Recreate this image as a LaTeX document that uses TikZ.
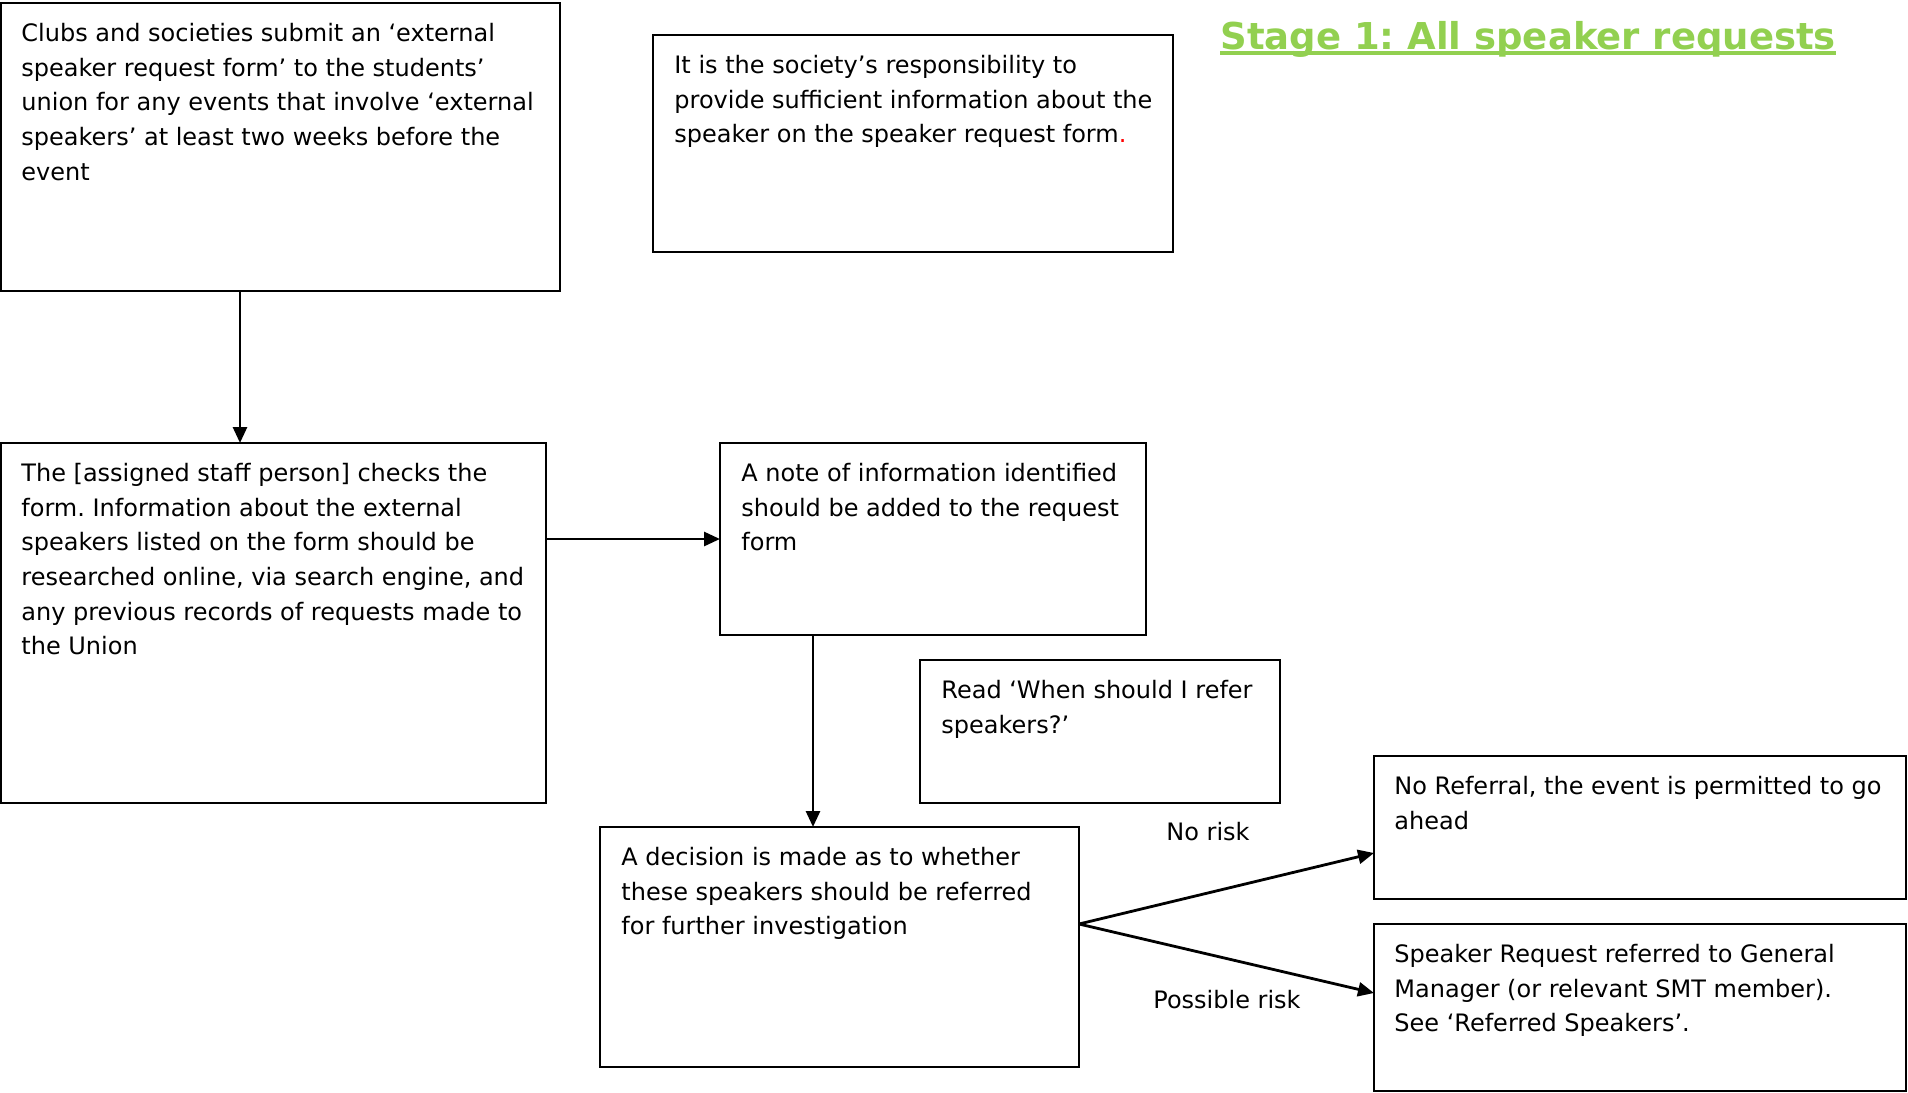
\documentclass[tikz,border=0pt]{standalone}
\usepackage{fontspec}
\setmainfont{DejaVu Sans}
\usetikzlibrary{arrows.meta}
\definecolor{titlegreen}{HTML}{92D050}
\frenchspacing
\begin{document}
\frenchspacing
\begin{tikzpicture}[x=0.5pt,y=-0.5pt,
  box/.style={draw, line width=1.2pt, inner sep=0, outer sep=0, anchor=north west},
  txt/.style={anchor=north west, inner sep=0, align=left, font=\fontsize{12pt}{17.3pt}\selectfont},
  arr/.style={line width=1.4pt, -{Triangle[length=8pt,width=7pt]}},
  lbl/.style={inner sep=0, font=\fontsize{12pt}{17.3pt}\selectfont}]
\useasboundingbox (0,0) rectangle (1908,1093);

% boxes
\node[box, minimum width=279.5pt, minimum height=144pt] (b1) at (1,3) {};
\node[box, minimum width=260pt, minimum height=108.5pt] (b2) at (653,35) {};
\node[box, minimum width=272.5pt, minimum height=180pt] (b3) at (1,443) {};
\node[box, minimum width=213pt, minimum height=96pt] (b4) at (720,443) {};
\node[box, minimum width=180pt, minimum height=71.5pt] (b5) at (920,660) {};
\node[box, minimum width=239.5pt, minimum height=120pt] (b6) at (600,827) {};
\node[box, minimum width=266pt, minimum height=71.5pt] (b7) at (1374,756) {};
\node[box, minimum width=266pt, minimum height=83.5pt] (b8) at (1374,924) {};

% texts
\node[txt] (t1) at (21,17) {\strut Clubs and societies submit an ‘external\\speaker request form’ to the students’\\union for any events that involve ‘external\\speakers’ at least two weeks before the\\event};
\node[txt] (t2) at (674,49) {\strut It is the society’s responsibility to\\provide sufficient information about the\\speaker on the speaker request form{\color{red}.}};
\node[txt] (t3) at (21,457) {\strut The [assigned staff person] checks the\\form. Information about the external\\speakers listed on the form should be\\researched online, via search engine, and\\any previous records of requests made to\\the Union};
\node[txt] (t4) at (741,457) {\strut A note of information identified\\should be added to the request\\form};
\node[txt] (t5) at (941,674) {\strut Read ‘When should I refer\\speakers?’};
\node[txt] (t6) at (621,841) {\strut A decision is made as to whether\\these speakers should be referred\\for further investigation};
\node[txt] (t7) at (1394,770) {\strut No Referral, the event is permitted to go\\ahead};
\node[txt] (t8) at (1394,938) {\strut Speaker Request referred to General\\Manager (or relevant SMT member).\\See ‘Referred Speakers’.};

% title
\node[anchor=base west, inner sep=0, text=titlegreen, font=\fontsize{18.5pt}{22pt}\selectfont\bfseries] (ttl) at (1220,49) {Stage 1: All speaker requests};
\draw[titlegreen, line width=1.7pt] ([yshift=-2pt]ttl.base west) -- ([yshift=-2pt]ttl.base east);

% connectors
\coordinate (a1) at (240,0);
\coordinate (a2) at (0,539);
\coordinate (a3) at (813,0);
\coordinate (a4) at (0,924);
\coordinate (a5) at (0,853);
\coordinate (a6) at (0,993);
\draw[arr] (b1.south -| a1) -- (b3.north -| a1);
\draw[arr] (b3.east |- a2) -- (b4.west |- a2);
\draw[arr] (b4.south -| a3) -- (b6.north -| a3);
\draw[arr] (b6.east |- a4) -- (b7.west |- a5);
\draw[arr] (b6.east |- a4) -- (b8.west |- a6);

% labels
\node[lbl] (l1) at (1208,832) {No risk};
\node[lbl] (l2) at (1227,1000) {Possible risk};
\end{tikzpicture}
\end{document}
